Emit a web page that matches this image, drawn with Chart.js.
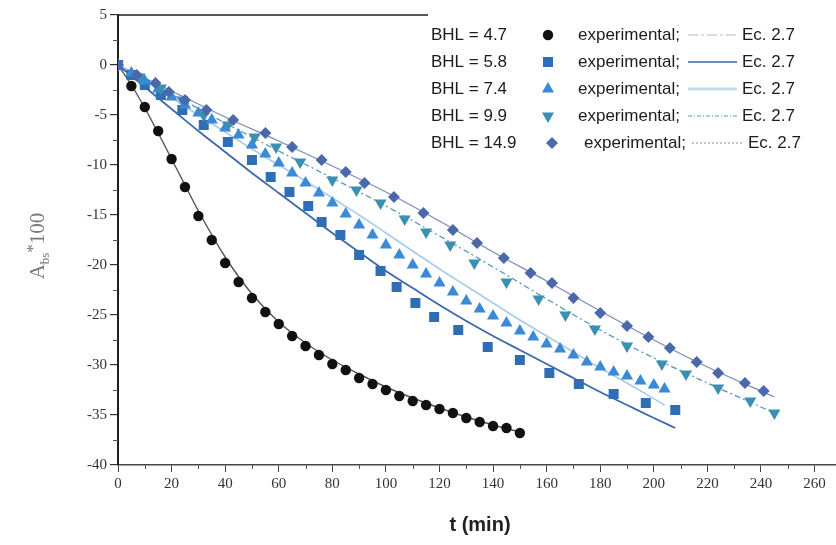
<!DOCTYPE html>
<html><head><meta charset="utf-8">
<script src="https://cdn.jsdelivr.net/npm/chart.js@4/dist/chart.umd.min.js"></script>
<style>html,body{margin:0;padding:0;background:#fff}canvas{display:block}</style>
</head><body>
<canvas id="c" width="836" height="545"></canvas>
<script>
// ---- labels ----
const seriesLabels = ['BHL = 4.7', 'BHL = 5.8', 'BHL = 7.4', 'BHL = 9.9', 'BHL = 14.9'];
const expLabel = 'experimental;';
const fitLabel = 'Ec. 2.7';
const xTitle = 't (min)';
const xTickValues = [0,20,40,60,80,100,120,140,160,180,200,220,240,260];
const yTickValues = [5,0,-5,-10,-15,-20,-25,-30,-35,-40];

// ---- BHL = 4.7 (circles) ----
const t47 = [0,5,10,15,20,25,30,35,40,45,50,55,60,65,70,75,80,85,90,95,100,105,110,115,120,125,130,135,140,145,150];
const y47 = [0,-2.1,-4.2,-6.6,-9.4,-12.2,-15.1,-17.5,-19.8,-21.7,-23.3,-24.7,-25.9,-27.1,-28.1,-29.0,-29.9,-30.5,-31.3,-31.9,-32.5,-33.1,-33.6,-34.0,-34.4,-34.8,-35.3,-35.7,-36.1,-36.3,-36.8];
const fitT47 = [0,5,10,15,20,25,30,40,50,60,70,80,90,100,110,120,130,140,150];
const fitY47 = [0,-2.0,-4.3,-6.8,-9.4,-12.0,-14.6,-19.2,-22.9,-25.7,-27.8,-29.5,-30.9,-32.2,-33.3,-34.3,-35.2,-36.0,-36.7];

// ---- BHL = 5.8 (squares) ----
const t58 = [0,5,10,16,24,32,41,50,57,64,71,76,83,90,98,104,111,118,127,138,150,161,172,185,197,208];
const y58 = [0,-1.0,-2.0,-3.0,-4.5,-6.0,-7.7,-9.5,-11.2,-12.7,-14.1,-15.7,-17.0,-19.0,-20.6,-22.2,-23.8,-25.2,-26.5,-28.2,-29.5,-30.8,-31.9,-32.9,-33.8,-34.5];
const fitT58 = [0,10,20,30,40,50,60,70,80,90,100,110,120,130,140,150,160,170,180,190,200,208];
const fitY58 = [0,-2.2,-4.4,-6.6,-8.7,-10.8,-12.8,-14.8,-16.8,-18.7,-20.6,-22.3,-24.0,-25.6,-27.1,-28.5,-29.9,-31.3,-32.7,-34.0,-35.3,-36.3];

// ---- BHL = 7.4 (triangles up) ----
const t74 = [0,5,10,15,20,25,30,35,40,45,50,55,60,65,70,75,80,85,90,95,100,105,110,115,120,125,130,135,140,145,150,155,160,165,170,175,180,185,190,195,200,204];
const y74 = [0,-0.8,-1.6,-2.4,-3.2,-4.0,-4.8,-5.5,-6.3,-7.0,-8.0,-8.9,-9.8,-10.8,-11.8,-12.8,-13.8,-14.9,-16.0,-17.0,-18.0,-19.0,-20.0,-20.9,-21.8,-22.7,-23.6,-24.4,-25.1,-25.8,-26.6,-27.2,-27.9,-28.4,-29.0,-29.7,-30.2,-30.7,-31.1,-31.6,-32.0,-32.4];
const fitT74 = [0,10,20,30,40,50,60,70,80,90,100,110,120,130,140,150,160,170,180,190,204];
const fitY74 = [0,-1.6,-3.3,-5.0,-6.7,-8.4,-10.0,-11.6,-13.3,-15.0,-16.8,-18.6,-20.4,-22.1,-23.8,-25.5,-27.1,-28.7,-30.3,-31.8,-34.0];

// ---- BHL = 9.9 (triangles down) ----
const t99 = [0,8,16,24,32,41,51,59,68,80,89,98,107,115,124,133,145,157,167,178,190,203,212,224,236,245];
const y99 = [0,-1.2,-2.3,-3.5,-5.0,-6.0,-7.2,-8.2,-9.7,-11.5,-12.5,-13.8,-15.4,-16.7,-18.0,-19.8,-21.7,-23.4,-25.0,-26.4,-28.1,-29.9,-30.9,-32.3,-33.6,-34.8];
const fitT99 = [0,20,40,60,80,100,120,140,160,180,200,220,245];
const fitY99 = [0,-2.9,-5.8,-8.6,-11.3,-14.1,-17.1,-20.2,-23.4,-26.5,-29.3,-31.8,-34.8];

// ---- BHL = 14.9 (diamonds) ----
const t149 = [0,7,14,19,25,33,43,55,65,76,85,92,103,114,125,134,144,154,162,170,180,190,198,206,216,224,234,241];
const y149 = [0,-1.0,-1.8,-2.7,-3.5,-4.5,-5.5,-6.8,-8.2,-9.5,-10.7,-11.8,-13.2,-14.8,-16.5,-17.8,-19.3,-20.8,-21.8,-23.3,-24.8,-26.1,-27.2,-28.3,-29.7,-30.8,-31.8,-32.6];
const fitT149 = [0,20,40,60,80,100,120,140,160,180,200,220,245];
const fitY149 = [0,-2.6,-5.2,-7.6,-10.1,-12.7,-15.6,-18.7,-21.6,-24.6,-27.5,-30.2,-33.2];

// ---- styles ----
const X_MAX = 268;
const pairs = (tx, ty) => tx.map((t, i) => ({x: t, y: ty[i]}));
const markerStyles = [
  {shape: 'circle', color: '#111111', r: 5.2},
  {shape: 'square', color: '#2f6db5', r: 5},
  {shape: 'up', color: '#3a8ad6', r: 7},
  {shape: 'down', color: '#3b8fb2', r: 7},
  {shape: 'diamond', color: '#4b68aa', r: 6}
];
const fitStyles = [
  {color: '#4d5a4d', width: 1.4, dash: []},
  {color: '#3b69ad', width: 1.8, dash: []},
  {color: '#a9cbea', width: 1.6, dash: []},
  {color: '#4f93b8', width: 1.2, dash: [6,3,2,3]},
  {color: '#7e8cb8', width: 1.3, dash: []}
];
const legendLineStyles = [
  {color: '#b8b8b8', width: 1.2, dash: [10,3,3,3]},
  {color: '#3b69ad', width: 1.5, dash: []},
  {color: '#c3dbef', width: 3, dash: []},
  {color: '#5a9cc2', width: 1.2, dash: [4,2,1,2]},
  {color: '#8f9cc4', width: 1.2, dash: [2,2]}
];
const expT = [t47, t58, t74, t99, t149];
const expY = [y47, y58, y74, y99, y149];
const fitT = [fitT47, fitT58, fitT74, fitT99, fitT149];
const fitY = [fitY47, fitY58, fitY74, fitY99, fitY149];

function drawMarker(ctx, shape, x, y, r, color) {
  ctx.save();
  ctx.fillStyle = color;
  ctx.beginPath();
  if (shape === 'circle') {
    ctx.arc(x, y, r, 0, Math.PI * 2);
  } else if (shape === 'square') {
    ctx.rect(x - r, y - r, 2 * r, 2 * r);
  } else if (shape === 'up' || shape === 'down') {
    const s = shape === 'up' ? 1 : -1;
    const w = r * Math.sqrt(3) / 2;
    ctx.moveTo(x, y - s * r);
    ctx.lineTo(x + w, y + s * r / 2);
    ctx.lineTo(x - w, y + s * r / 2);
    ctx.closePath();
  } else if (shape === 'diamond') {
    ctx.moveTo(x, y - r); ctx.lineTo(x + r, y); ctx.lineTo(x, y + r); ctx.lineTo(x - r, y); ctx.closePath();
  }
  ctx.fill();
  ctx.restore();
}

const chartStyleForMarker = (m) => {
  if (m.shape === 'circle') return {pointStyle: 'circle', radius: m.r, rotation: 0};
  if (m.shape === 'square') return {pointStyle: 'rect', radius: m.r * Math.SQRT2, rotation: 0};
  if (m.shape === 'up') return {pointStyle: 'triangle', radius: m.r, rotation: 0};
  if (m.shape === 'down') return {pointStyle: 'triangle', radius: m.r, rotation: 180};
  return {pointStyle: 'rectRot', radius: m.r, rotation: 0};
};

const datasets = [];
for (let i = 0; i < 5; i++) {
  const ps = chartStyleForMarker(markerStyles[i]);
  datasets.push({
    label: seriesLabels[i] + ' ' + expLabel,
    data: pairs(expT[i], expY[i]),
    showLine: false,
    pointStyle: ps.pointStyle,
    pointRadius: ps.radius,
    pointRotation: ps.rotation,
    pointBackgroundColor: markerStyles[i].color,
    pointBorderColor: markerStyles[i].color,
    pointBorderWidth: 0,
    order: 5 - i
  });
}
for (let i = 0; i < 5; i++) {
  datasets.push({
    label: seriesLabels[i] + ' ' + fitLabel,
    data: pairs(fitT[i], fitY[i]),
    showLine: true,
    pointRadius: 0,
    borderColor: fitStyles[i].color,
    borderWidth: fitStyles[i].width,
    borderDash: fitStyles[i].dash,
    cubicInterpolationMode: 'monotone',
    fill: false,
    order: 10
  });
}

const extras = {
  id: 'extras',
  beforeDraw(chart) {
    const ctx = chart.ctx;
    ctx.save(); ctx.fillStyle = '#fff'; ctx.fillRect(0, 0, chart.width, chart.height); ctx.restore();
  },
  afterDraw(chart) {
    const ctx = chart.ctx, a = chart.chartArea, xs = chart.scales.x, ys = chart.scales.y;
    ctx.save();
    // minor ticks
    ctx.strokeStyle = '#555'; ctx.lineWidth = 1;
    for (let v = -37.5; v < 5; v += 5) {
      const py = Math.round(ys.getPixelForValue(v)) + 0.5;
      ctx.beginPath(); ctx.moveTo(a.left - 5, py); ctx.lineTo(a.left, py); ctx.stroke();
    }
    for (let v = 10; v < X_MAX; v += 20) {
      const px = Math.round(xs.getPixelForValue(v)) + 0.5;
      ctx.beginPath(); ctx.moveTo(px, a.bottom); ctx.lineTo(px, a.bottom + 4); ctx.stroke();
    }
    // top border
    ctx.strokeStyle = '#222'; ctx.lineWidth = 1.5;
    ctx.beginPath(); ctx.moveTo(a.left - 1, a.top); ctx.lineTo(428, a.top); ctx.stroke();

    // legend
    const rowsY = [35, 62, 89, 116, 143];
    ctx.textBaseline = 'middle';
    ctx.font = '17px "Liberation Sans", Arial, sans-serif';
    for (let i = 0; i < 5; i++) {
      const ry = rowsY[i];
      const last = i === 4;
      ctx.textAlign = 'left';
      ctx.fillStyle = '#1c1c1c';
      ctx.fillText(seriesLabels[i], 431, ry);
      const m = markerStyles[i];
      drawMarker(ctx, m.shape, last ? 552 : 548, ry, m.r, m.color);
      ctx.fillStyle = '#1c1c1c';
      ctx.fillText(expLabel, last ? 584 : 578, ry);
      const ls = legendLineStyles[i];
      ctx.save();
      ctx.strokeStyle = ls.color; ctx.lineWidth = ls.width; ctx.setLineDash(ls.dash);
      ctx.beginPath(); ctx.moveTo(last ? 692 : 688, ry); ctx.lineTo(last ? 742 : 737, ry); ctx.stroke();
      ctx.restore();
      ctx.fillStyle = '#1c1c1c';
      ctx.fillText(fitLabel, last ? 748 : 742, ry);
    }

    // x title
    ctx.textAlign = 'center';
    ctx.textBaseline = 'middle';
    ctx.font = 'bold 20px "Liberation Sans", Arial, sans-serif';
    ctx.fillStyle = '#222';
    ctx.fillText(xTitle, 480, 525);

    // y title: A_bs *100 (rotated)
    ctx.save();
    ctx.translate(37, 246);
    ctx.rotate(-Math.PI / 2);
    ctx.fillStyle = '#7a7a7a';
    ctx.textAlign = 'left';
    ctx.textBaseline = 'alphabetic';
    const parts = [
      {t: 'A', f: '21px "Liberation Serif", serif', dy: 0},
      {t: 'bs', f: '13px "Liberation Serif", serif', dy: 5},
      {t: '*', f: '17px "Liberation Serif", serif', dy: -6},
      {t: '100', f: '21px "Liberation Serif", serif', dy: 0}
    ];
    let total = 0;
    parts.forEach(p => { ctx.font = p.f; p.w = ctx.measureText(p.t).width; total += p.w; });
    let cx = -total / 2;
    parts.forEach(p => { ctx.font = p.f; ctx.fillText(p.t, cx, 7 + p.dy); cx += p.w; });
    ctx.restore();
    ctx.restore();
  }
};

new Chart(document.getElementById('c'), {
  type: 'scatter',
  data: {datasets},
  options: {
    responsive: false,
    animation: false,
    devicePixelRatio: 1,
    layout: {autoPadding: false, padding: {top: 15, left: 0, right: 0, bottom: 0}},
    plugins: {legend: {display: false}, tooltip: {enabled: false}},
    scales: {
      x: {
        type: 'linear', min: 0, max: X_MAX,
        afterFit: (s) => { s.height = 80; s.paddingRight = 0; s.paddingLeft = 0; },
        afterBuildTicks: (s) => { s.ticks = xTickValues.concat([X_MAX]).map(v => ({value: v})); },
        ticks: {
          font: {family: '"Liberation Serif", serif', size: 15},
          color: '#333', padding: 3, maxRotation: 0, autoSkip: false,
          callback: (v) => xTickValues.includes(v) ? String(v) : ''
        },
        grid: {display: true, drawOnChartArea: false, drawTicks: true, tickLength: 7, color: '#444', lineWidth: 1},
        border: {display: true, color: '#4a4a40', width: 1.5}
      },
      y: {
        type: 'linear', min: -40, max: 5,
        afterFit: (s) => { s.width = 118; s.paddingTop = 0; s.paddingBottom = 0; },
        afterBuildTicks: (s) => { s.ticks = yTickValues.map(v => ({value: v})); },
        ticks: {
          font: {family: '"Liberation Serif", serif', size: 15},
          color: '#333', padding: 3, autoSkip: false
        },
        grid: {display: true, drawOnChartArea: false, drawTicks: true, tickLength: 8, color: '#333', lineWidth: 1.2},
        border: {display: true, color: '#1e1e1e', width: 2}
      }
    }
  },
  plugins: [extras]
});
</script>
</body></html>
